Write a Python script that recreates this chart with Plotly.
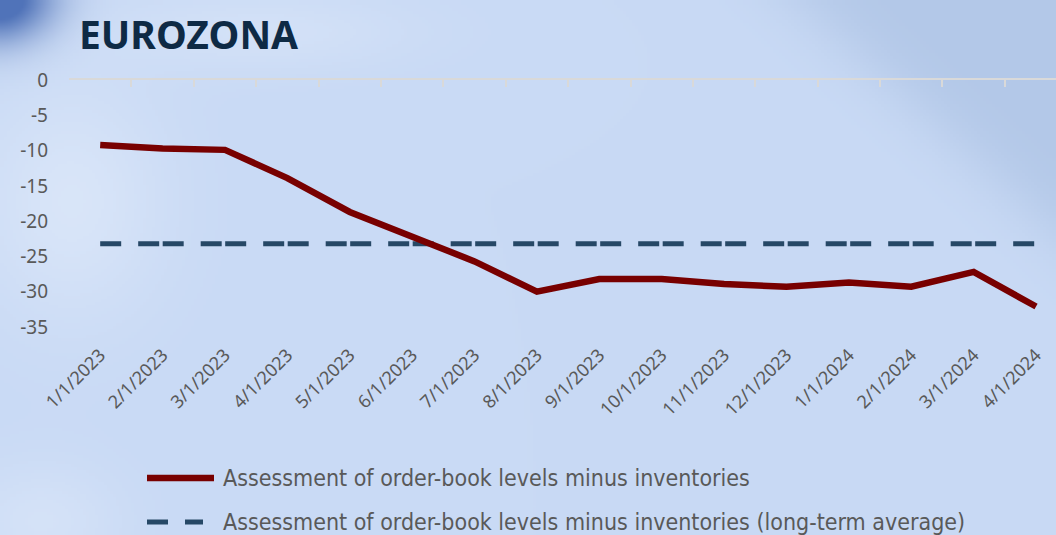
import base64, struct, zlib
import numpy as np
import plotly.graph_objects as go

# ---------------- data ----------------
categories = ["1/1/2023", "2/1/2023", "3/1/2023", "4/1/2023", "5/1/2023", "6/1/2023",
              "7/1/2023", "8/1/2023", "9/1/2023", "10/1/2023", "11/1/2023", "12/1/2023",
              "1/1/2024", "2/1/2024", "3/1/2024", "4/1/2024"]
order_book_minus_inventories = [-9.2, -9.7, -9.9, -13.9, -18.7, -22.2, -25.7, -30.0,
                                -28.2, -28.2, -28.9, -29.3, -28.7, -29.3, -27.2, -32.1]
long_term_average = [-23.2] * len(categories)
y_ticks = [0, -5, -10, -15, -20, -25, -30, -35]
y_tick_labels = ["0", "-5", "-10", "-15", "-20", "-25", "-30", "-35"]

series_names = ["Assessment of order-book levels minus inventories",
                "Assessment of order-book levels minus inventories (long-term average)"]

# ---------------- layout geometry ----------------
W, H = 1056, 535
ML, MR, MT, MB = 69, 0, 80, 208
PW, PH = W - ML - MR, H - MT - MB


def px(x):
    return (x - ML) / PW


def py(y):
    return (H - MB - y) / PH


# ---------------- background image ----------------
def make_bg(w=352, h=178):
    sx, sy = W / w, H / h
    yy, xx = np.mgrid[0:h, 0:w].astype(float)
    X, Y = xx * sx, yy * sy
    base = np.array([201, 218, 245], float)
    img = np.ones((h, w, 3)) * base
    # darker upper-right region
    p0 = np.array([800.0, 0.0]); d = np.array([256.0, 230.0]); d /= np.linalg.norm(d)
    n = np.array([d[1], -d[0]])
    dist = (X - p0[0]) * n[0] + (Y - p0[1]) * n[1]
    t = 1 / (1 + np.exp(-dist / 18))
    dark = np.array([179, 200, 232], float)
    img = img * (1 - t[..., None]) + dark * t[..., None]
    # light blobs on the left
    light = np.array([222, 233, 250], float)
    b1 = 0.75 * np.exp(-(((X - 70) / 95) ** 2 + ((Y - 200) / 120) ** 2))
    b2 = 0.55 * np.exp(-(((X - 40) / 80) ** 2 + ((Y - 520) / 60) ** 2))
    b3 = 0.5 * np.exp(-(((X - 260) / 150) ** 2 + ((Y - 30) / 40) ** 2))
    b = np.clip(b1 + b2 + b3, 0, 1)
    img = img * (1 - b[..., None]) + light * b[..., None]
    # dark blue corner at top-left
    corner = np.array([80, 115, 185], float)
    c = np.exp(-(((X + Y * 0.6) / 55) ** 2 + ((Y - X * 0.3) / 45) ** 2))
    c = np.clip(c * 1.2, 0, 1)
    img = img * (1 - c[..., None]) + corner * c[..., None]
    arr = np.clip(img, 0, 255).astype(np.uint8)
    raw = b"".join(b"\x00" + row.tobytes() for row in arr)

    def chunk(tag, data):
        return struct.pack(">I", len(data)) + tag + data + struct.pack(">I", zlib.crc32(tag + data) & 0xffffffff)

    png = b"\x89PNG\r\n\x1a\n" + chunk(b"IHDR", struct.pack(">IIBBBBB", w, h, 8, 2, 0, 0, 0)) \
        + chunk(b"IDAT", zlib.compress(raw, 9)) + chunk(b"IEND", b"")
    return "data:image/png;base64," + base64.b64encode(png).decode()


xs = list(range(len(categories)))
red = "#780000"
navy = "#264866"
gray = "#595959"

fig = go.Figure()
# invisible helper trace so the top (category boundary) axis is drawn
fig.add_trace(go.Scatter(x=xs, y=long_term_average, mode="lines", xaxis="x2",
                         line=dict(width=0, color="rgba(0,0,0,0)"), showlegend=False,
                         hoverinfo="skip"))
fig.add_trace(go.Scatter(x=xs, y=long_term_average, mode="lines", name=series_names[1],
                         line=dict(color=navy, width=5, dash="21px,17px,21px,3.5px"),
                         showlegend=False, hoverinfo="skip"))
fig.add_trace(go.Scatter(x=xs, y=order_book_minus_inventories, mode="lines", name=series_names[0],
                         line=dict(color=red, width=6.5), showlegend=False))

x_range = [-0.5, len(categories) - 1 + 0.32]

fig.update_layout(
    width=W, height=H,
    margin=dict(l=ML, r=MR, t=MT, b=MB),
    paper_bgcolor="#c9daf5", plot_bgcolor="rgba(0,0,0,0)",
    showlegend=False,
    images=[dict(source=make_bg(), xref="paper", yref="paper", x=px(0), y=py(0),
                 sizex=px(W) - px(0), sizey=py(0) - py(H), xanchor="left", yanchor="top",
                 sizing="stretch", layer="below")],
    xaxis=dict(range=x_range, tickmode="array", tickvals=xs, ticktext=categories,
               tickangle=-45, tickfont=dict(family="Noto Sans", size=18, color=gray),
               showgrid=False, zeroline=False, showline=False, ticks="",
               ticklabelstandoff=13, fixedrange=True),
    xaxis2=dict(range=x_range, overlaying="x", side="top", anchor="y",
                tickmode="array", tickvals=[i - 0.5 for i in range(len(categories) + 1)],
                showticklabels=False, ticks="inside", ticklen=7, tickwidth=2,
                tickcolor="#d9d9d9", showline=True, linecolor="#d9d9d9", linewidth=2,
                showgrid=False, zeroline=False, fixedrange=True),
    yaxis=dict(range=[-35, 0], tickmode="array", tickvals=y_ticks, ticktext=y_tick_labels,
               tickfont=dict(family="Noto Sans", size=19, color=gray),
               showgrid=False, zeroline=False, showline=False, ticks="",
               ticklabelstandoff=20, fixedrange=True),
)

# title
fig.add_annotation(text="<b>EUROZONA</b>", xref="paper", yref="paper", x=px(77), y=py(33),
                   xanchor="left", yanchor="middle", showarrow=False,
                   font=dict(family="Noto Sans", size=39, color="#0e2a45"))

# manual legend
leg_font = dict(family="Liberation Sans Narrow, DejaVu Sans Condensed, Roboto", size=23, color=gray)
for i, (name, color, dash, yy) in enumerate([(series_names[0], red, "solid", 478),
                                              (series_names[1], navy, "21px,17px", 522)]):
    fig.add_shape(type="line", xref="paper", yref="paper", x0=px(147), x1=px(214 if i == 0 else 203),
                  y0=py(yy), y1=py(yy), line=dict(color=color, width=6.5 if i == 0 else 5, dash=dash))
    fig.add_annotation(text=name, xref="paper", yref="paper", x=px(221), y=py(yy),
                       xanchor="left", yanchor="middle", showarrow=False, font=leg_font)

fig.write_html("out.html", config={"displayModeBar": False},
               post_script="document.body.style.margin='0';document.body.style.overflow='hidden';")
